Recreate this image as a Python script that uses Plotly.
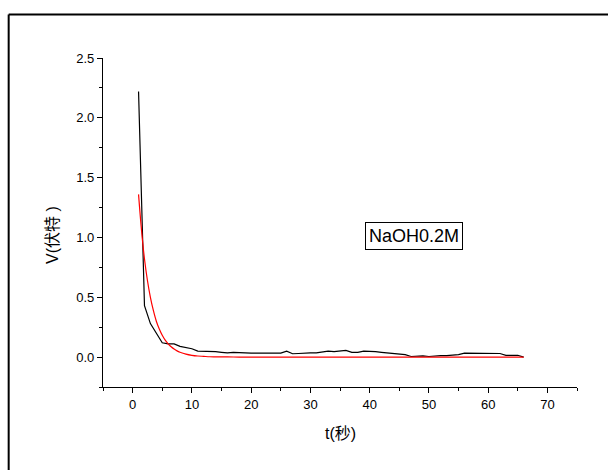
import plotly.graph_objects as go

# Measured signal (black)
t_meas = list(range(1, 67))
v_meas = [2.22, 0.43, 0.28, 0.20, 0.12, 0.11, 0.11, 0.09, 0.08, 0.07,
          0.05, 0.05, 0.05, 0.045, 0.04, 0.035, 0.04, 0.04, 0.035, 0.033,
          0.033, 0.033, 0.033, 0.033, 0.033, 0.05, 0.028, 0.03, 0.035, 0.035,
          0.035, 0.04, 0.05, 0.045, 0.05, 0.056, 0.04, 0.04, 0.05, 0.05,
          0.045, 0.04, 0.035, 0.03, 0.025, 0.02, 0.005, 0.01, 0.01, 0.005,
          0.01, 0.012, 0.013, 0.015, 0.02, 0.033, 0.033, 0.033, 0.033, 0.03,
          0.03, 0.03, 0.015, 0.015, 0.015, 0.0]

# Fitted curve (red)
t_fit = [1, 1.5, 2, 2.5, 3, 3.5, 4, 4.5, 5, 5.5, 6, 6.5, 7, 7.5, 8, 9, 10,
         11, 12, 13, 14, 16, 18, 20, 30, 40, 50, 60, 66]
v_fit = [1.36, 1.06, 0.82, 0.64, 0.50, 0.39, 0.30, 0.235, 0.183, 0.142,
         0.111, 0.086, 0.067, 0.052, 0.041, 0.025, 0.015, 0.009, 0.006,
         0.003, 0.002, 0.001, 0.0005, 0.0, 0.0, 0.0, 0.0, 0.0, 0.0]

x_ticks = [0, 10, 20, 30, 40, 50, 60, 70]
y_ticks = [0.0, 0.5, 1.0, 1.5, 2.0, 2.5]

legend_text = "NaOH0.2M"
x_title = "t(秒)"
y_title = "V(伏特 )"

FONT = "Liberation Sans, Arial, Noto Sans CJK SC, sans-serif"

fig = go.Figure()
fig.add_trace(go.Scatter(x=t_meas, y=v_meas, mode="lines",
                         line=dict(color="black", width=1.2), showlegend=False))
fig.add_trace(go.Scatter(x=t_fit, y=v_fit, mode="lines", line_shape="spline",
                         line=dict(color="red", width=1.2), showlegend=False))

axis_common = dict(showline=True, linecolor="black", linewidth=1.2,
                   ticks="outside", ticklen=5, tickwidth=1.2, tickcolor="black",
                   showgrid=False, zeroline=False, mirror=False,
                   tickfont=dict(family=FONT, size=13, color="black"))

fig.update_xaxes(range=[-5, 75], tickvals=x_ticks,
                 ticktext=[str(v) for v in x_ticks],
                 minor=dict(ticks="outside", ticklen=3, tickwidth=1.2,
                            tickcolor="black", dtick=5, tick0=-5, showgrid=False),
                 **axis_common)
fig.update_yaxes(range=[-0.25, 2.5], tickvals=y_ticks,
                 ticktext=[f"{v:.1f}" for v in y_ticks],
                 minor=dict(ticks="outside", ticklen=3, tickwidth=1.2,
                            tickcolor="black", dtick=0.25, tick0=0, showgrid=False),
                 **axis_common)

# axis titles
fig.add_annotation(x=0.5, y=-0.14, xref="paper", yref="paper", text=x_title,
                   showarrow=False, xanchor="center", yanchor="middle",
                   font=dict(family=FONT, size=16, color="black"))
fig.add_annotation(x=-0.1076, y=0.462, xref="paper", yref="paper", text=y_title,
                   showarrow=False, textangle=-90, xanchor="center", yanchor="middle",
                   font=dict(family=FONT, size=16, color="black"))

fig.add_annotation(x=47.55, y=1.016, xref="x", yref="y", text=legend_text,
                   showarrow=False, bordercolor="black", borderwidth=1, borderpad=3,
                   bgcolor="white",
                   font=dict(family=FONT, size=18, color="black"))

# outer frame (left and top edges visible in the image)
fig.add_shape(type="line", xref="paper", yref="paper", x0=-0.199, x1=-0.199,
              y0=1.132, y1=-0.4, line=dict(color="black", width=2))
fig.add_shape(type="line", xref="paper", yref="paper", x0=-0.199, x1=1.3,
              y0=1.132, y1=1.132, line=dict(color="black", width=2))

fig.update_layout(width=608, height=470,
                  margin=dict(l=103, r=31, t=58, b=83),
                  paper_bgcolor="white", plot_bgcolor="white",
                  font=dict(family=FONT))

fig.write_html("out.html", config={"displayModeBar": False},
               post_script="document.body.style.margin='0';document.body.style.padding='0';")
